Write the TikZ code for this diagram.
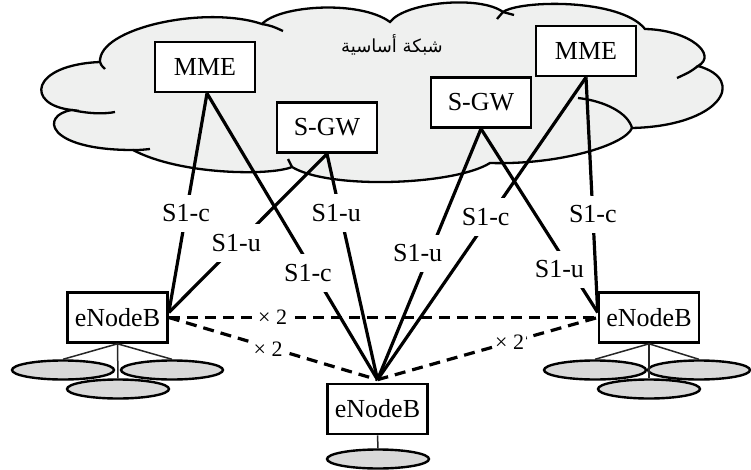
\documentclass[tikz,border=0pt]{standalone}
\usepackage{fontspec}
\setmainfont{Liberation Serif}
\newfontfamily\arabicfont[Script=Arabic]{DejaVu Sans}
\TeXXeTstate=1
\usetikzlibrary{shapes.geometric,calc}
\definecolor{cloudgray}{RGB}{239,240,239}
\definecolor{uegray}{RGB}{217,217,217}
\begin{document}
\begin{tikzpicture}[x=1pt,y=-1pt,
  box/.style={draw,line width=2.6pt,fill=white,minimum width=100pt,minimum height=50pt,inner sep=0pt,font=\fontsize{26}{29}\selectfont},
  link/.style={line width=3.2pt},
  lbl/.style={fill=white,inner xsep=0.5pt,inner ysep=10pt,font=\fontsize{26}{29}\selectfont},
  xlink/.style={line width=3.2pt,dash pattern=on 11pt off 7pt},
  xlbl/.style={fill=white,inner sep=2pt,font=\fontsize{22}{26}\selectfont},
  ue/.style={ellipse,draw,line width=2.4pt,fill=uegray,minimum width=102pt,minimum height=19pt,inner sep=0pt},
  uelink/.style={line width=1.5pt,draw=black!85},
  cloudline/.style={line width=2.3pt}]
\useasboundingbox (0,0) rectangle (751,470);

% cloud
\path[cloudline,draw,fill=cloudgray] (100,62) .. controls (98,28) and (205,5) .. (262,24)
 .. controls (280,5) and (360,0) .. (390,22)
 .. controls (405,2) and (480,-5) .. (503,12)
 .. controls (520,0) and (620,-2) .. (645,29)
 .. controls (690,30) and (718,55) .. (698,66)
 .. controls (748,80) and (720,126) .. (632,128)
 .. controls (625,145) and (560,165) .. (490,163)
 .. controls (455,185) and (330,190) .. (292,167)
 .. controls (270,176) and (180,175) .. (133,150)
 .. controls (45,150) and (40,115) .. (72,110)
 .. controls (25,105) and (30,65) .. (100,62) -- cycle;
\draw[cloudline] (100,62) .. controls (101,65) .. (105,69);
\draw[cloudline] (262,24) .. controls (272,26) .. (283,31);
\draw[cloudline] (497,19) -- (503,12) -- (514,15);
\draw[cloudline] (698,66) .. controls (690,72) .. (677,78);
\draw[cloudline] (578,98) .. controls (605,101) and (628,113) .. (632,128);
\draw[cloudline] (292,167) -- (288,159);
\draw[cloudline] (133,150) .. controls (140,150) .. (150,149);
\draw[cloudline] (72,110) .. controls (90,114) and (105,114) .. (115,112);

\node (core) at (392,45) {\arabicfont\fontsize{18}{21}\selectfont\beginR شبكة أساسية\endR};

% nodes
\node[box] (mmeL) at (205,67) {MME};
\node[box] (mmeR) at (586,51) {MME};
\node[box] (sgwL) at (327,127.5) {S-GW};
\node[box] (sgwR) at (481,102.5) {S-GW};
\node[box] (enbL) at (117.5,317.5) {eNodeB};
\node[box] (enbR) at (649,317.5) {eNodeB};
\node[box] (enbB) at (377.5,409) {eNodeB};

\coordinate (enbLin) at ($(enbL.east)+(0,-5)$);
\coordinate (enbRin) at ($(enbR.west)+(0,-5)$);
\coordinate (enbBin) at ($(enbB.north)+(0,-3)$);
\coordinate (mmeLout) at ($(mmeL.south)+(2,0)$);

% S1 links
\draw[link] (mmeLout) -- node[lbl,pos=0.548]{S1-c} (enbLin);
\draw[link] (mmeLout) -- node[lbl,pos=0.627,xshift=-6pt]{S1-c} (enbBin);
\draw[link] (sgwL.south) -- node[lbl,pos=0.561,xshift=-2pt]{S1-u} (enbLin);
\draw[link] (sgwL.south) -- node[lbl,pos=0.262,xshift=-4pt]{S1-u} (enbBin);
\draw[link] (sgwR.south) -- node[lbl,pos=0.496,xshift=-12pt]{S1-u} (enbBin);
\draw[link] (mmeR.south) -- node[lbl,pos=0.462,xshift=-4pt]{S1-c} (enbBin);
\draw[link] (sgwR.south) -- node[lbl,pos=0.766,xshift=-11pt]{S1-u} (enbRin);
\draw[link] (mmeR.south) -- node[lbl,pos=0.583]{S1-c} (enbRin);

% redraw boxes over line ends
\node[box] at (mmeL) {MME};
\node[box] at (mmeR) {MME};
\node[box] at (sgwL) {S-GW};
\node[box] at (sgwR) {S-GW};

% X2 links
\draw[xlink] (enbL.east) -- node[xlbl,pos=0.242]{× 2} (enbR.west);
\draw[xlink] (enbL.east) -- node[xlbl,pos=0.476,yshift=-2pt]{× 2} (enbBin);
\draw[xlink] (enbBin) -- node[xlbl,pos=0.6]{× 2} (enbR.west);

% UEs
\node[ue] (ueL1) at (63,370) {};
\node[ue] (ueL2) at (172,370) {};
\node[ue] (ueL3) at (118,389) {};
\draw[uelink] (enbL.south) -- (ueL1.north);
\draw[uelink] (enbL.south) -- (ueL2.north);
\draw[uelink] (enbL.south) -- (ueL3.north);

\node[ue] (ueR1) at (595,370) {};
\node[ue] (ueR2) at (699,370) {};
\node[ue] (ueR3) at (649,389) {};
\draw[uelink] (enbR.south) -- (ueR1.north);
\draw[uelink] (enbR.south) -- (ueR2.north);
\draw[uelink] (enbR.south) -- (ueR3.north);

\node[ue] (ueB) at (378,459) {};
\draw[uelink] (enbB.south) -- (ueB.north);
\end{tikzpicture}
\end{document}
